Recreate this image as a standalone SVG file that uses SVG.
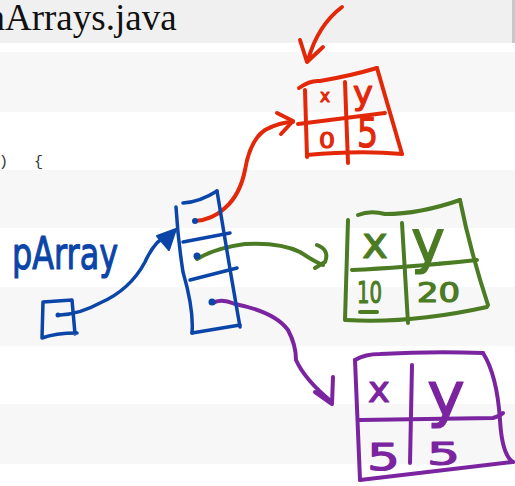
<svg xmlns="http://www.w3.org/2000/svg" width="515" height="486" viewBox="0 0 515 486">
<style>
.s{fill:none;stroke-linecap:round;stroke-linejoin:round}
.red{stroke:#e3280a;stroke-width:4}
.blue{stroke:#0b45a8;stroke-width:3.5}
.green{stroke:#4b7b23;stroke-width:4}
.purple{stroke:#7b24a0;stroke-width:4}
.hw{font-family:"DejaVu Sans","Noto Sans",sans-serif;stroke-width:1.2;stroke-linejoin:round}
.tr{fill:#e3280a;stroke:#e3280a}
.tg{fill:#4b7b23;stroke:#4b7b23}
.tp{fill:#7b24a0;stroke:#7b24a0}
.tb{fill:#0b45a8;stroke:#0b45a8}
.band{fill:#f7f7f7}
</style>
<rect width="515" height="486" fill="#ffffff"/>
<rect x="0" y="0" width="515" height="43" fill="#f0f0f0"/>
<rect x="512" y="0" width="3" height="43" fill="#c8c8c8"/>
<rect class="band" x="0" y="52" width="515" height="60"/>
<rect class="band" x="0" y="170" width="515" height="58"/>
<rect class="band" x="0" y="287" width="515" height="59"/>
<rect class="band" x="0" y="404" width="515" height="60"/>
<text x="-13.5" y="30" font-family="Liberation Serif, serif" font-size="37" fill="#111">nArrays.java</text>
<text y="166" font-family="Liberation Mono, monospace" font-size="15" fill="#333"><tspan x="-1">)</tspan><tspan x="34">{</tspan></text>

<g id="connectors">
<path class="s red" d="M342,7 Q318,25 308,60"/>
<path class="s red" d="M300,40 L307,62 L323,47"/>
<path class="s red" d="M195,221 Q212,220 225,208 Q240,195 245,170 Q250,140 265,130 Q280,122 293,122"/>
<path class="s red" d="M277,113 L293,121 L281,134"/>
<path class="s blue" d="M60,315 Q80,314 100,303 Q130,290 145,262 Q155,240 168,235"/>
<polygon points="157,236 176,229 169,250" fill="#0b45a8" stroke="#0b45a8" stroke-width="2" stroke-linejoin="round"/>
<path class="s green" d="M197,259 Q215,248 245,244 Q280,242 300,252 Q315,262 323,265"/>
<path class="s green" d="M317,245 Q330,250 325,262 L315,268"/>
<path class="s purple" d="M213,303 Q220,298 235,304 Q275,312 288,330 Q296,345 296,360 Q305,380 332,402"/>
<path class="s purple" d="M315,392 L332,404 L333,377"/>
</g>

<g id="pArray-var">
<text class="hw tb" x="12" y="269" font-size="44" textLength="106" lengthAdjust="spacingAndGlyphs">pArray</text>
<path class="s blue" d="M43,302 L72,300 L75,334 M43,302 L42,338 Q55,333 77,333"/>
<circle cx="58" cy="315" r="2.5" fill="#0b45a8"/>
</g>

<g id="array">
<path class="s blue" d="M183,203 Q200,202 217,191"/>
<path class="s blue" d="M176,207 Q178,240 183,272 Q194,310 192,333"/>
<path class="s blue" d="M217,191 Q225,240 231,275 L240,327"/>
<path class="s blue" d="M192,333 L240,325"/>
<path class="s blue" d="M183,242 L230,233"/>
<path class="s blue" d="M190,280 L237,268"/>
<circle cx="195" cy="221" r="3" fill="#0b45a8"/>
<circle cx="197" cy="256" r="3.5" fill="#0b45a8"/>
<circle cx="212" cy="302" r="3.5" fill="#0b45a8"/>
</g>

<g id="point-red">
<path class="s red" d="M299,88 Q310,80 320,81 Q350,76 377,68"/>
<path class="s red" d="M305,90 L307,157"/>
<path class="s red" d="M307,155 Q360,150 402,154"/>
<path class="s red" d="M377,68 L402,154"/>
<path class="s red" d="M345,82 L348,163"/>
<path class="s red" d="M298,124 L385,113"/>
<text class="hw tr" x="320" y="102" font-size="17">x</text>
<text class="hw tr" x="353" y="104" font-size="32" textLength="20" lengthAdjust="spacingAndGlyphs">y</text>
<text class="hw tr" x="319" y="148" font-size="22" textLength="16" lengthAdjust="spacingAndGlyphs">0</text>
<text class="hw tr" x="357" y="147" font-size="40" textLength="21" lengthAdjust="spacingAndGlyphs">5</text>
</g>

<g id="point-green">
<path class="s green" d="M358,215 Q370,210 385,214 Q420,214 460,200"/>
<path class="s green" d="M348,220 L345,320"/>
<path class="s green" d="M460,200 Q470,250 488,305"/>
<path class="s green" d="M346,320 Q410,324 487,307"/>
<path class="s green" d="M402,223 L408,323"/>
<path class="s green" d="M352,270 Q400,268 477,260"/>
<text class="hw tg" x="362" y="258" font-size="44" textLength="26" lengthAdjust="spacingAndGlyphs">x</text>
<text class="hw tg" x="411" y="262" font-size="58" textLength="34" lengthAdjust="spacingAndGlyphs">y</text>
<text class="hw tg" x="357" y="303" font-size="31" textLength="25" lengthAdjust="spacingAndGlyphs">10</text>
<path class="s green" d="M360,312 L377,312"/>
<text class="hw tg" x="417" y="302" font-size="26" textLength="43" lengthAdjust="spacingAndGlyphs">20</text>
</g>

<g id="point-purple">
<path class="s purple" d="M355,360 Q365,354 380,354 Q433,351 483,353"/>
<path class="s purple" d="M483,353 Q497,375 500,420 Q502,455 513,462"/>
<path class="s purple" d="M360,480 Q430,472 513,462"/>
<path class="s purple" d="M355,360 L360,480"/>
<path class="s purple" d="M360,420 L493,418 Q500,416 503,413"/>
<path class="s purple" d="M412,365 L410,463"/>
<text class="hw tp" x="368" y="402" font-size="35" textLength="22" lengthAdjust="spacingAndGlyphs">x</text>
<text class="hw tp" x="427" y="415" font-size="60" textLength="38" lengthAdjust="spacingAndGlyphs">y</text>
<text class="hw tp" x="367" y="470" font-size="38" textLength="33" lengthAdjust="spacingAndGlyphs">5</text>
<text class="hw tp" x="427" y="465" font-size="32" textLength="33" lengthAdjust="spacingAndGlyphs">5</text>
</g>
</svg>
